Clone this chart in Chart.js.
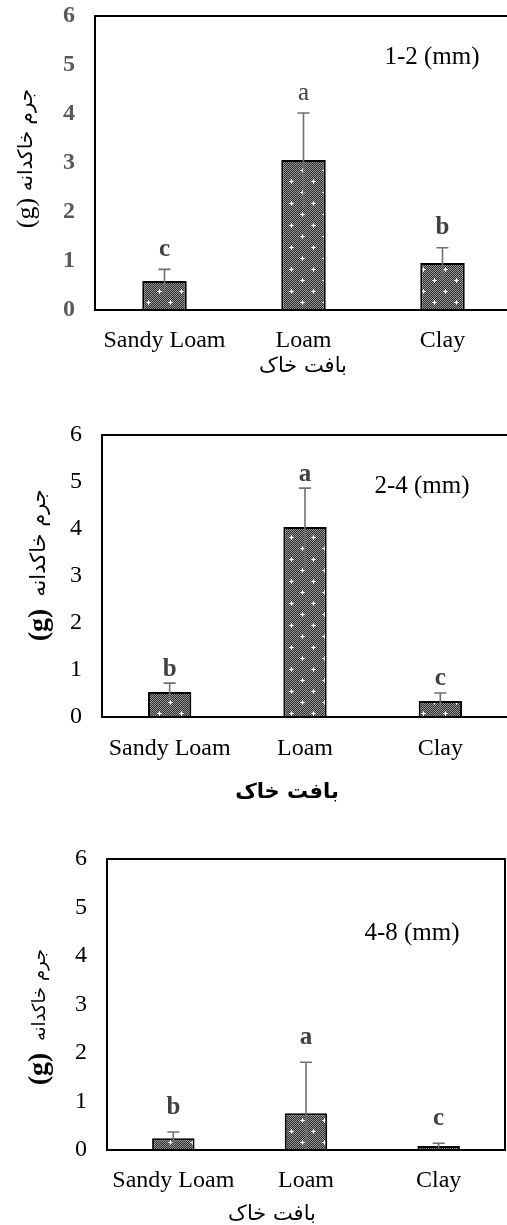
<!DOCTYPE html>
<html><head><meta charset="utf-8">
<script src="https://cdn.jsdelivr.net/npm/chart.js@4.4.0/dist/chart.umd.min.js"></script>
<style>
html,body{margin:0;padding:0;background:#fff;overflow:hidden;width:507px;height:1225px;}
canvas{position:absolute;left:0;display:block;}
</style></head><body>
<canvas id="c1" width="514" height="400" style="top:0px"></canvas>
<canvas id="c2" width="510" height="420" style="top:400px"></canvas>
<canvas id="c3" width="507" height="385" style="top:840px"></canvas>
<script>
// ---- data ----
const categories = ['Sandy Loam', 'Loam', 'Clay'];
const yTickValues = [0, 1, 2, 3, 4, 5, 6];
const mass_1_2 = [0.59, 3.06, 0.96];
const err_1_2 = [0.24, 0.96, 0.31];
const letters_1_2 = ['c', 'a', 'b'];
const mass_2_4 = [0.53, 4.04, 0.34];
const err_2_4 = [0.19, 0.83, 0.17];
const letters_2_4 = ['b', 'a', 'c'];
const mass_4_8 = [0.24, 0.76, 0.08];
const err_4_8 = [0.13, 1.05, 0.06];
const letters_4_8 = ['b', 'a', 'c'];
const sizeLabels = ['1-2 (mm)', '2-4 (mm)', '4-8 (mm)'];
const yTitleFa = 'جرم خاکدانه';
const yTitleUnit = '(g)';
const xTitleFa = 'بافت خاک';

const SERIF = "'Liberation Serif', 'Times New Roman', serif";
const FA = "'DejaVu Sans', sans-serif";

function makePattern() {
  const N = 22;
  const c = document.createElement('canvas');
  c.width = N; c.height = N;
  const g = c.getContext('2d');
  const img = g.createImageData(N, N);
  for (let yy = 0; yy < N; yy++) for (let xx = 0; xx < N; xx++) {
    const k = (yy * N + xx) * 4;
    const v = ((xx + yy) % 2) ? 45 : 150;
    img.data[k] = img.data[k + 1] = img.data[k + 2] = v; img.data[k + 3] = 255;
  }
  const white = (px, py) => { const k = (py * N + px) * 4; img.data[k] = img.data[k + 1] = img.data[k + 2] = 255; };
  [[5, 5], [16, 16]].forEach(([cx, cy]) => {
    white(cx, cy); white(cx - 1, cy); white(cx + 1, cy); white(cx, cy - 1); white(cx, cy + 1);
    white(cx - 2, cy); white(cx + 2, cy); white(cx, cy - 2); white(cx, cy + 2);
  });
  g.putImageData(img, 0, 0);
  return g.createPattern(c, 'repeat');
}

const panelPlugin = {
  id: 'panel',
  afterDatasetsDraw(chart, args, o) {
    const { ctx, chartArea: a, scales: { x, y } } = chart;
    const vals = chart.data.datasets[0].data;
    ctx.save();
    // error bars
    ctx.strokeStyle = '#707070';
    ctx.lineWidth = 1.6;
    vals.forEach((v, i) => {
      const px = x.getPixelForValue(i);
      const top = y.getPixelForValue(v + o.err[i]);
      const bot = y.getPixelForValue(Math.max(0, v - o.err[i]));
      ctx.beginPath();
      ctx.moveTo(px, bot); ctx.lineTo(px, top);
      ctx.moveTo(px - 6, top); ctx.lineTo(px + 6, top);
      ctx.stroke();
    });
    // significance letters
    ctx.fillStyle = '#404040';
    ctx.textAlign = 'center';
    ctx.textBaseline = 'middle';
    vals.forEach((v, i) => {
      const px = x.getPixelForValue(i);
      const top = y.getPixelForValue(v + o.err[i]);
      ctx.font = (o.letterBold[i] ? 'bold ' : '') + '25px ' + SERIF;
      ctx.fillText(o.letters[i], px, top - o.letterOffset);
    });
    // box
    ctx.strokeStyle = '#000';
    ctx.lineWidth = 2;
    ctx.strokeRect(a.left, a.top, a.right - a.left, a.bottom - a.top);
    // size label
    ctx.fillStyle = '#000';
    ctx.font = '25px ' + SERIF;
    ctx.fillText(o.sizeLabel, o.sizePos[0], o.sizePos[1]);
    // y title (rotated)
    ctx.save();
    ctx.translate(o.yTitleX, o.yFaY);
    ctx.rotate(-Math.PI / 2);
    ctx.direction = 'rtl';
    ctx.font = o.faSize + 'px ' + FA;
    ctx.fillStyle = '#000';
    ctx.fillText(yTitleFa, 0, 0);
    ctx.restore();
    ctx.save();
    ctx.translate(o.yTitleX, o.yUnitY);
    ctx.rotate(-Math.PI / 2);
    ctx.font = (o.unitBold ? 'bold ' : '') + o.unitSize + 'px ' + SERIF;
    ctx.fillStyle = '#000';
    ctx.fillText(yTitleUnit, 0, 0);
    ctx.restore();
    // x title
    ctx.direction = 'rtl';
    ctx.font = (o.xTitleBold ? 'bold ' : '') + '21px ' + FA;
    ctx.fillText(xTitleFa, o.xTitlePos[0], o.xTitlePos[1]);
    ctx.restore();
  }
};

const fill = makePattern();

function build(id, values, p) {
  const el = document.getElementById(id);
  return new Chart(el, {
    type: 'bar',
    data: {
      labels: categories,
      datasets: [{
        data: values,
        backgroundColor: fill,
        borderColor: '#000',
        borderWidth: 2,
        borderSkipped: 'start',
        categoryPercentage: 1,
        barPercentage: 0.32
      }]
    },
    options: {
      responsive: false,
      animation: false,
      devicePixelRatio: 1,
      layout: { padding: { top: p.top, right: p.right, left: 0, bottom: 0 } },
      plugins: { legend: { display: false }, tooltip: { enabled: false }, panel: p.panel },
      scales: {
        x: {
          grid: { display: false }, border: { display: false },
          ticks: { font: { family: SERIF, size: 24 }, color: '#000', padding: p.xPad, maxRotation: 0 },
          afterFit: s => { s.height = p.xHeight; s.paddingLeft = 0; s.paddingRight = 0; }
        },
        y: {
          min: 0, max: 6,
          grid: { display: false, drawTicks: false }, border: { display: false },
          afterBuildTicks: s => { s.ticks = yTickValues.map(v => ({ value: v })); },
          ticks: { font: { family: SERIF, size: 24, weight: p.tickBold ? 'bold' : 'normal' }, color: p.tickColor, padding: 20 },
          afterFit: s => { s.width = p.left; s.paddingTop = 0; s.paddingBottom = 0; }
        }
      }
    },
    plugins: [panelPlugin]
  });
}

build('c1', mass_1_2, {
  top: 16, right: 2, left: 95, xHeight: 90, xPad: 8, tickBold: true, tickColor: '#595959',
  panel: { err: err_1_2, letters: letters_1_2, letterBold: [true, false, true], letterOffset: 20,
    sizeLabel: sizeLabels[0], sizePos: [432, 57], yTitleX: 27, yFaY: 140, yUnitY: 213, faSize: 20, unitBold: false, unitSize: 26,
    xTitlePos: [303, 367], xTitleBold: false }
});
build('c2', mass_2_4, {
  top: 35, right: 2, left: 102, xHeight: 103, xPad: 9, tickBold: false, tickColor: '#000',
  panel: { err: err_2_4, letters: letters_2_4, letterBold: [true, true, true], letterOffset: 14,
    sizeLabel: sizeLabels[1], sizePos: [422, 86], yTitleX: 40, yFaY: 143, yUnitY: 225, faSize: 21, unitBold: true, unitSize: 28,
    xTitlePos: [287, 393], xTitleBold: true }
});
build('c3', mass_4_8, {
  top: 19, right: 2, left: 107, xHeight: 75, xPad: 8, tickBold: false, tickColor: '#000',
  panel: { err: err_4_8, letters: letters_4_8, letterBold: [true, true, true], letterOffset: 25,
    sizeLabel: sizeLabels[2], sizePos: [412, 93], yTitleX: 40, yFaY: 155, yUnitY: 229, faSize: 18, unitBold: true, unitSize: 28,
    xTitlePos: [272, 375], xTitleBold: false }
});
</script>
</body></html>
